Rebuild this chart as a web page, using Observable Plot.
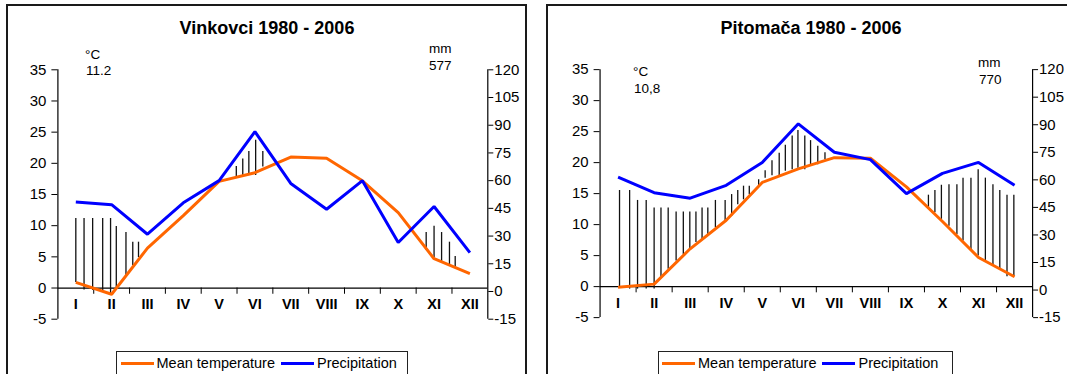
<!DOCTYPE html>
<html>
<head>
<meta charset="utf-8">
<script src="https://cdn.jsdelivr.net/npm/d3@7"></script>
<script src="https://cdn.jsdelivr.net/npm/@observablehq/plot@0.6"></script>
<style>
  html, body { margin: 0; padding: 0; background: #fff; overflow: hidden; }
  #page { position: relative; width: 1067px; height: 374px; overflow: hidden;
          font-family: Arial, "Liberation Sans", sans-serif; color: #000; }
  .panel { position: absolute; top: 4px; height: 420px; border: 2px solid #1a1a1a; box-sizing: border-box; }
  .title { position: absolute; font-weight: bold; font-size: 18px; line-height: 1;
           transform: translateX(-50%); white-space: nowrap; }
  .note { position: absolute; font-size: 13.5px; line-height: 1; white-space: nowrap; }
  .chart { position: absolute; top: 40px; }
  .legend { position: absolute; top: 351px; height: 24px; box-sizing: border-box;
            border: 1.5px solid #222; background: #fff; display: flex; align-items: center;
            font-size: 14.5px; padding-left: 3.5px; white-space: nowrap; }
  .legend .sw { display: inline-block; width: 33px; height: 3px; margin-right: 3px; }
  .legend .item + .item { margin-left: 6px; }
  .legend .item { display: flex; align-items: center; }
</style>
</head>
<body>
<div id="page">
  <div class="panel" style="left:6px; width:521px;"></div>
  <div class="panel" style="left:546px; width:530px;"></div>

  <div class="title" style="left:267px; top:19px;">Vinkovci 1980 - 2006</div>
  <div class="title" style="left:811px; top:19px;">Pitomača 1980 - 2006</div>

  <div class="note" style="left:85px; top:47.5px;">°C</div>
  <div class="note" style="left:86px; top:64px;">11.2</div>
  <div class="note" style="left:429px; top:41.5px;">mm</div>
  <div class="note" style="left:429px; top:58.5px;">577</div>

  <div class="note" style="left:633px; top:64.5px;">°C</div>
  <div class="note" style="left:634px; top:81.5px;">10,8</div>
  <div class="note" style="left:978px; top:56px;">mm</div>
  <div class="note" style="left:979px; top:73px;">770</div>

  <div id="chart-vinkovci" class="chart" style="left:0px;"></div>
  <div id="chart-pitomaca" class="chart" style="left:540px;"></div>

  <div class="legend" style="left:116px; width:291.5px;">
    <span class="item"><span class="sw" style="background:#ff6600"></span>Mean temperature</span>
    <span class="item"><span class="sw" style="background:#0000ff"></span>Precipitation</span>
  </div>
  <div class="legend" style="left:657.5px; width:295px;">
    <span class="item"><span class="sw" style="background:#ff6600"></span>Mean temperature</span>
    <span class="item"><span class="sw" style="background:#0000ff"></span>Precipitation</span>
  </div>
</div>

<script>
// Monthly climate, 1980 - 2006
const months = ["I", "II", "III", "IV", "V", "VI", "VII", "VIII", "IX", "X", "XI", "XII"];
const tempTicks = [-5, 0, 5, 10, 15, 20, 25, 30, 35];
const precipTicks = [-15, 0, 15, 30, 45, 60, 75, 90, 105, 120];

// Vinkovci: mean temperature (°C) and precipitation (mm)
const vinkovciTemp = [0.9, -1.0, 6.4, 11.6, 17.1, 18.5, 21.0, 20.8, 17.2, 12.1, 4.7, 2.3];
const vinkovciPrecip = [48.5, 47, 31, 48, 60, 86.5, 58.5, 44.5, 60, 26.5, 46, 21];

// Vinkovci hatching: month position, upper and lower end (°C)
const vinkovciHatchMonth = [1.00, 1.23, 1.47, 1.75, 1.97, 2.13, 2.40, 2.59, 2.75,
  5.48, 5.66, 5.83, 6.02, 6.22,
  10.78, 11.0, 11.21, 11.43, 11.59];
const vinkovciHatchTop = [11.15, 11.15, 11.15, 11.15, 11.15, 9.87, 8.9, 7.35, 7.35,
  19.5, 20.7, 21.9, 23.7, 21.9,
  8.9, 9.9, 8.9, 7.35, 5.05];
const vinkovciHatchBottom = [0.9, -0.3, -0.4, -0.4, -1.2, -0.4, 1.7, 3.6, 4.9,
  17.8, 17.9, 18.05, 18.05, 19.4,
  6.0, 4.9, 4.25, 3.45, 3.35];

// Pitomača: mean temperature (°C) and precipitation (mm)
const pitomacaTemp = [-0.1, 0.4, 6.1, 10.7, 16.8, 19.0, 20.8, 20.7, 16.1, 10.5, 4.7, 1.6];
const pitomacaPrecip = [61.5, 53, 50, 57, 69.5, 90.5, 75, 71, 52.5, 63.5, 69.5, 57];

// Pitomača hatching: month position, upper and lower end (°C)
const pitomacaHatchMonth = [1.04, 1.32, 1.54, 1.78, 2.00, 2.19, 2.39, 2.61, 2.81, 2.99,
  3.16, 3.33, 3.49, 3.70, 3.97, 4.15, 4.32, 4.48, 4.64, 4.90,
  5.08, 5.27, 5.47, 5.64, 5.83, 5.99, 6.18, 6.34, 6.54, 6.74,
  9.61, 9.79, 9.97, 10.18, 10.40, 10.57, 10.79, 10.99, 11.19, 11.40,
  11.59, 11.79, 11.98];
const pitomacaHatchTop = [15.5, 15.5, 13.9, 13.9, 12.7, 12.7, 12.7, 12.05, 12.05, 12.05,
  12.05, 12.7, 12.7, 13.9, 13.9, 14.85, 15.5, 16.2, 16.2, 17.25,
  18.7, 20.3, 21.5, 22.8, 24.3, 25.2, 24.3, 23.55, 22.65, 21.6,
  14.75, 15.5, 16.35, 16.45, 16.45, 17.5, 17.5, 18.85, 17.5, 16.45,
  15.5, 14.75, 14.75];
const pitomacaHatchBottom = [0.0, -0.4, -0.4, -0.4, -0.4, 1.5, 2.8, 4.15, 5.15, 6.15,
  7.1, 7.6, 8.4, 9.5, 10.6, 11.3, 13.2, 14.0, 14.8, 16.3,
  17.5, 17.9, 17.6, 18.6, 18.85, 19.1, 18.85, 19.4, 19.65, 20.45,
  12.7, 11.9, 10.85, 9.75, 8.4, 7.35, 6.0, 4.95, 4.15, 3.35,
  2.8, 1.6, 1.6];

// Precipitation shares the frame with temperature: -15…120 mm spans -5…35 °C
const mmToC = mm => -5 + (mm + 15) * 40 / 135;
const cToMm = c => (c + 5) * 135 / 40 - 15;

function climateChart({temp, precip, hatchMonth, hatchTop, hatchBottom, width, marginLeft, marginRight}) {
  const monthIndex = d3.range(1, 13);
  const series = monthIndex.map((m, i) => ({m, temp: temp[i], precip: mmToC(precip[i])}));
  const hatch = hatchMonth.map((m, i) => ({m, top: hatchTop[i], bottom: hatchBottom[i]}));
  const lineStyle = {strokeWidth: 3, strokeLinejoin: "miter", strokeLinecap: "butt"};
  return Plot.plot({
    width,
    height: 300,
    marginLeft,
    marginRight,
    marginTop: 29.3,
    marginBottom: 21.3,
    style: {fontFamily: "Arial, 'Liberation Sans', sans-serif", fontSize: "13px",
            color: "#000", background: "transparent", overflow: "visible"},
    x: {domain: [0.5, 12.5], label: null},
    y: {domain: [-5, 35], label: null},
    marks: [
      // temperature axis (left) and precipitation axis (right)
      Plot.axisY({anchor: "left", ticks: tempTicks, tickFormat: d => String(d), label: null,
                  tickSize: 6, tickPadding: 5.5, fontSize: 15}),
      Plot.axisY({anchor: "right", ticks: precipTicks.map(mmToC), label: null,
                  tickFormat: c => String(Math.round(cToMm(c))), tickSize: 5, tickPadding: 1.5, fontSize: 15}),
      Plot.ruleX([0.5, 12.5], {stroke: "#000", strokeWidth: 1.2}),
      // zero line with month separators below it
      Plot.ruleY([0], {stroke: "#000", strokeWidth: 1.2}),
      Plot.ruleX(d3.range(1.5, 12, 1), {y1: 0, y2: -1, stroke: "#000"}),
      Plot.axisX({anchor: "bottom", ticks: monthIndex, tickSize: 0, tickPadding: 0, label: null,
                  tickFormat: m => months[m - 1], fontWeight: "bold", fontSize: 14.5, dy: -20}),
      // hatching between the curves
      Plot.ruleX(hatch, {x: "m", y1: "bottom", y2: "top", stroke: "#111", strokeWidth: 1.3}),
      Plot.line(series, {x: "m", y: "temp", stroke: "#ff6600", ...lineStyle}),
      Plot.line(series, {x: "m", y: "precip", stroke: "#0000ff", ...lineStyle})
    ]
  });
}

document.getElementById("chart-vinkovci").append(climateChart({
  temp: vinkovciTemp, precip: vinkovciPrecip,
  hatchMonth: vinkovciHatchMonth, hatchTop: vinkovciHatchTop, hatchBottom: vinkovciHatchBottom,
  width: 525, marginLeft: 57.4, marginRight: 37.7
}));

document.getElementById("chart-pitomaca").append(climateChart({
  temp: pitomacaTemp, precip: pitomacaPrecip,
  hatchMonth: pitomacaHatchMonth, hatchTop: pitomacaHatchTop, hatchBottom: pitomacaHatchBottom,
  width: 530, marginLeft: 59.9, marginRight: 35.1
}));
</script>
</body>
</html>
